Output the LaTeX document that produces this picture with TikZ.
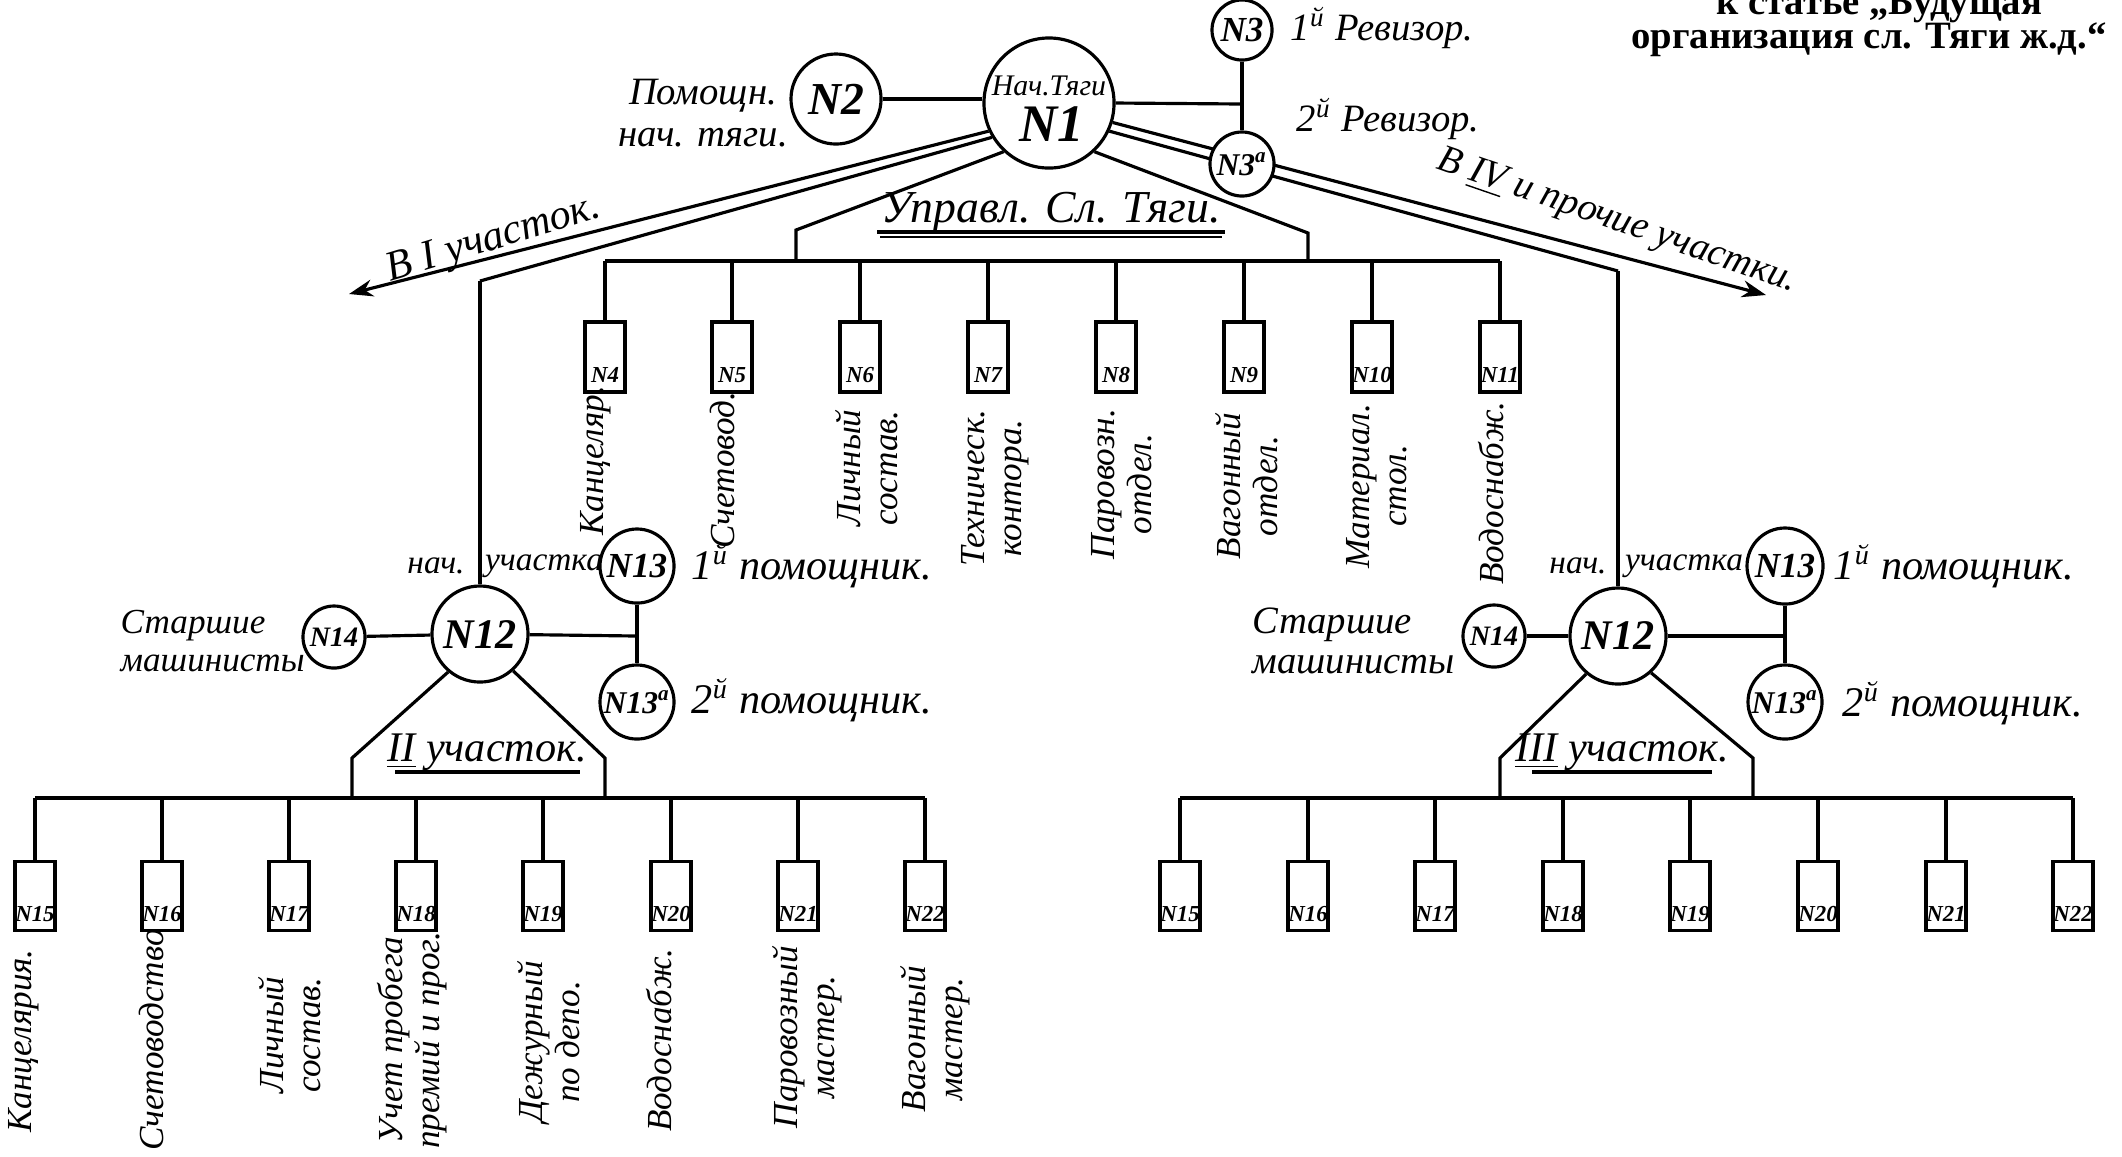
\documentclass[tikz,border=0pt]{standalone}
\usepackage{fontspec}
\setmainfont{Liberation Serif}
\usetikzlibrary{arrows.meta}
\begin{document}
\begin{tikzpicture}[x=0.01cm,y=-0.01cm,
  ln/.style={line width=0.9pt},
  circ/.style={draw, circle, line width=0.9pt, fill=white, inner sep=0pt, font=\bfseries\itshape},
  bx/.style={draw, rectangle, line width=0.9pt, fill=white, minimum width=4mm, minimum height=7mm, inner sep=0pt},
  boxlab/.style={inner sep=0pt, font=\bfseries\itshape\fontsize{6.5}{7}\selectfont},
  rot/.style={rotate=90, inner sep=0pt, align=center, font=\itshape\fontsize{10}{10.5}\selectfont},
  hw/.style={inner sep=0pt, font=\itshape\fontsize{11}{11}\selectfont},
  arr/.style={line width=0.9pt, -{Stealth[length=2.4mm,width=1.7mm]}}
]
\useasboundingbox[fill=white] (0,0) rectangle (2122,1156);

% ---------- header ----------
\node[inner sep=0pt, font=\bfseries\fontsize{11}{11}\selectfont] (hd1) at (1879,6) {к статье „Будущая};
\node[inner sep=0pt, font=\bfseries\fontsize{11}{11}\selectfont] (hd2) at (1869,40) {организация сл. Тяги ж.д.“};

% ---------- top circles ----------
\node[circ, minimum size=13mm] (n1) at (1049,103) {};
\node[inner sep=0pt, font=\itshape\fontsize{8.5}{8.5}\selectfont] (n1a) at (1049,86) {Нач.Тяги};
\node[inner sep=0pt, font=\bfseries\itshape\fontsize{15}{15}\selectfont] (n1b) at (1052,124) {N1};
\node[circ, minimum size=9mm, font=\bfseries\itshape\fontsize{13}{13}\selectfont] (n2) at (836,99) {N2};
\node[circ, minimum size=6mm, font=\bfseries\itshape\fontsize{10}{10}\selectfont] (n3) at (1242,30) {N3};
\coordinate (j1) at (1242,104);

\node[hw, align=center, font=\itshape\fontsize{11}{12}\selectfont] (t2) at (703,113) {Помощн.\\нач. тяги.};
\node[hw, anchor=west] (t3) at (1290,28) {1\textsuperscript{й} Ревизор.};
\node[hw, anchor=west] (t3a) at (1296,119) {2\textsuperscript{й} Ревизор.};

\draw[ln] (n2) -- (n1.west |- n2);
\draw[ln] (n1.east) -- (j1);

% lines from N1
\coordinate (aL) at (349,294);
\coordinate (bL) at (480,281);
\coordinate (cL) at (796,230);
\coordinate (cL2) at (796,261);
\coordinate (dR) at (1308,233);
\coordinate (dR2) at (1308,261);
\coordinate (aR) at (1766,295);
\coordinate (bR) at (1618,271);

\draw[arr] (n1.205) -- (aL);
\draw[ln] (n1.211) -- (bL);
\draw[ln] (n1.227) -- (cL) -- (cL2);
\draw[ln] (n1.313) -- (dR) -- (dR2);
\draw[arr] (n1.343) -- (aR);
\draw[ln] (n1.335) -- (bR);

\node[circ, minimum size=6.4mm, font=\bfseries\itshape\fontsize{9}{9}\selectfont] (n3a) at (1242,164) {N3\textsuperscript{a}};
\draw[ln] (n3) -- (n3a);

\node[inner sep=0pt, rotate=17, font=\itshape\fontsize{12}{12}\selectfont] (tI) at (494,240) {В I участок.};
\node[inner sep=0pt, rotate=-19, font=\itshape\fontsize{11}{11}\selectfont] (tIV) at (1617,222) {В \underline{IV} и прочие участки.};

% ---------- management ----------
\node[inner sep=0pt, font=\itshape\fontsize{13}{13}\selectfont] (upr) at (1051,212) {Управл. Сл. Тяги.};
\draw[line width=1.4pt] (877,232) -- (1225,232);
\draw[line width=0.6pt] (880,237) -- (1222,237);

\coordinate (bar1a) at (605,261);
\coordinate (bar1b) at (1500,261);
\draw[ln] (bar1a) -- (bar1b);
\foreach \i/\x in {4/605,5/732,6/860,7/988,8/1116,9/1244,10/1372,11/1500} {
  \node[bx] (b\i) at (\x,357) {};
  \node[boxlab] (bl\i) at (\x,375) {N\i};
  \draw[ln] (b\i |- bar1a) -- (b\i.north);
}
\node[rot] (r4) at (596,461) {Канцеляр.};
\node[rot] (r5) at (723,470) {Счетовод.};
\node[rot] (r6) at (867,468) {Личный\\состав.};
\node[rot] (r7) at (995,488) {Техническ.\\контора.};
\node[rot] (r8) at (1122,484) {Паровозн.\\отдел.};
\node[rot] (r9) at (1247,486) {Вагонный\\отдел.};
\node[rot] (r10) at (1377,486) {Материал.\\стол.};
\node[rot] (r11) at (1491,493) {Водоснабж.};

% ---------- left district (II) ----------
\node[circ, minimum size=9.6mm, font=\bfseries\itshape\fontsize{12}{12}\selectfont] (n12l) at (480,634) {N12};
\node[circ, minimum size=6.2mm, font=\bfseries\itshape\fontsize{8}{8}\selectfont] (n14l) at (334,637) {N14};
\node[circ, minimum size=7.4mm, font=\bfseries\itshape\fontsize{10}{10}\selectfont] (n13l) at (637,566) {N13};
\node[circ, minimum size=7.4mm, font=\bfseries\itshape\fontsize{9}{9}\selectfont] (n13al) at (637,702) {N13\textsuperscript{a}};
\coordinate (jL) at (637,636);
\draw[ln] (bL) -- (n12l);
\draw[ln] (n14l) -- (n12l);
\draw[ln] (n12l) -- (jL);
\draw[ln] (n13l) -- (n13al);

\node[hw, font=\itshape\fontsize{9.5}{9.5}\selectfont] (nl1) at (436,566) {нач.};
\node[hw, font=\itshape\fontsize{9.5}{9.5}\selectfont] (nl2) at (544,566) {участка};
\node[hw, anchor=west, align=left, font=\itshape\fontsize{10}{11}\selectfont] (stl) at (120,641) {Старшие\\машинисты};
\node[hw, anchor=west, font=\itshape\fontsize{12}{12}\selectfont] (p1l) at (691,566) {1\textsuperscript{й} помощник.};
\node[hw, anchor=west, font=\itshape\fontsize{12}{12}\selectfont] (p2l) at (691,700) {2\textsuperscript{й} помощник.};

\coordinate (tl1) at (352,758);
\coordinate (tl2) at (352,798);
\coordinate (tr1) at (605,758);
\coordinate (tr2) at (605,798);
\draw[ln] (n12l.230) -- (tl1) -- (tl2);
\draw[ln] (n12l.312) -- (tr1) -- (tr2);
\node[inner sep=0pt, font=\itshape\fontsize{12}{12}\selectfont] (uII) at (487,752) {\underline{II} участок.};
\draw[line width=1pt] (395,772) -- (580,772);

\coordinate (bar2a) at (35,798);
\coordinate (bar2b) at (925,798);
\draw[ln] (bar2a) -- (bar2b);
\foreach \i/\x in {15/35,16/162,17/289,18/416,19/543,20/671,21/798,22/925} {
  \node[bx, minimum height=6.9mm] (c\i) at (\x,896) {};
  \node[boxlab] (cl\i) at (\x,914) {N\i};
  \draw[ln] (c\i |- bar2a) -- (c\i.north);
}
\node[rot] (s15) at (24,1041) {Канцелярия.};
\node[rot] (s16) at (151,1040) {Счетоводство};
\node[rot] (s17) at (290,1035) {Личный\\состав.};
\node[rot] (s18) at (412,1040) {Учет пробега\\премий и прог.};
\node[rot] (s19) at (549,1042) {Дежурный\\по депо.};
\node[rot] (s20) at (659,1040) {Водоснабж.};
\node[rot] (s21) at (807,1037) {Паровозный\\мастер.};
\node[rot] (s22) at (935,1039) {Вагонный\\мастер.};

% ---------- right district (III) ----------
\node[circ, minimum size=9.6mm, font=\bfseries\itshape\fontsize{12}{12}\selectfont] (n12r) at (1618,636) {N12};
\node[circ, minimum size=6.2mm, font=\bfseries\itshape\fontsize{8}{8}\selectfont] (n14r) at (1494,636) {N14};
\node[circ, minimum size=7.6mm, font=\bfseries\itshape\fontsize{10}{10}\selectfont] (n13r) at (1785,566) {N13};
\node[circ, minimum size=7.4mm, font=\bfseries\itshape\fontsize{9}{9}\selectfont] (n13ar) at (1785,702) {N13\textsuperscript{a}};
\coordinate (jR) at (1785,636);
\draw[ln] (bR) -- (n12r);
\draw[ln] (n14r) -- (n12r);
\draw[ln] (n12r) -- (jR);
\draw[ln] (n13r) -- (n13ar);

\node[hw, font=\itshape\fontsize{9.5}{9.5}\selectfont] (nr1) at (1578,566) {нач.};
\node[hw, font=\itshape\fontsize{9.5}{9.5}\selectfont] (nr2) at (1684,566) {участка};
\node[hw, anchor=west, align=left, font=\itshape\fontsize{11}{11.5}\selectfont] (str) at (1252,641) {Старшие\\машинисты};
\node[hw, anchor=west, font=\itshape\fontsize{12}{12}\selectfont] (p1r) at (1833,566) {1\textsuperscript{й} помощник.};
\node[hw, anchor=west, font=\itshape\fontsize{12}{12}\selectfont] (p2r) at (1842,703) {2\textsuperscript{й} помощник.};

\coordinate (ul1) at (1500,758);
\coordinate (ul2) at (1500,798);
\coordinate (ur1) at (1753,758);
\coordinate (ur2) at (1753,798);
\draw[ln] (n12r.230) -- (ul1) -- (ul2);
\draw[ln] (n12r.312) -- (ur1) -- (ur2);
\node[inner sep=0pt, font=\itshape\fontsize{12}{12}\selectfont] (uIII) at (1622,752) {\underline{III} участок.};
\draw[line width=1pt] (1532,772) -- (1712,772);

\coordinate (bar3a) at (1180,798);
\coordinate (bar3b) at (2073,798);
\draw[ln] (bar3a) -- (bar3b);
\foreach \i/\x in {15/1180,16/1308,17/1435,18/1563,19/1690,20/1818,21/1946,22/2073} {
  \node[bx, minimum height=6.9mm] (d\i) at (\x,896) {};
  \node[boxlab] (dl\i) at (\x,914) {N\i};
  \draw[ln] (d\i |- bar3a) -- (d\i.north);
}
\end{tikzpicture}
\end{document}
